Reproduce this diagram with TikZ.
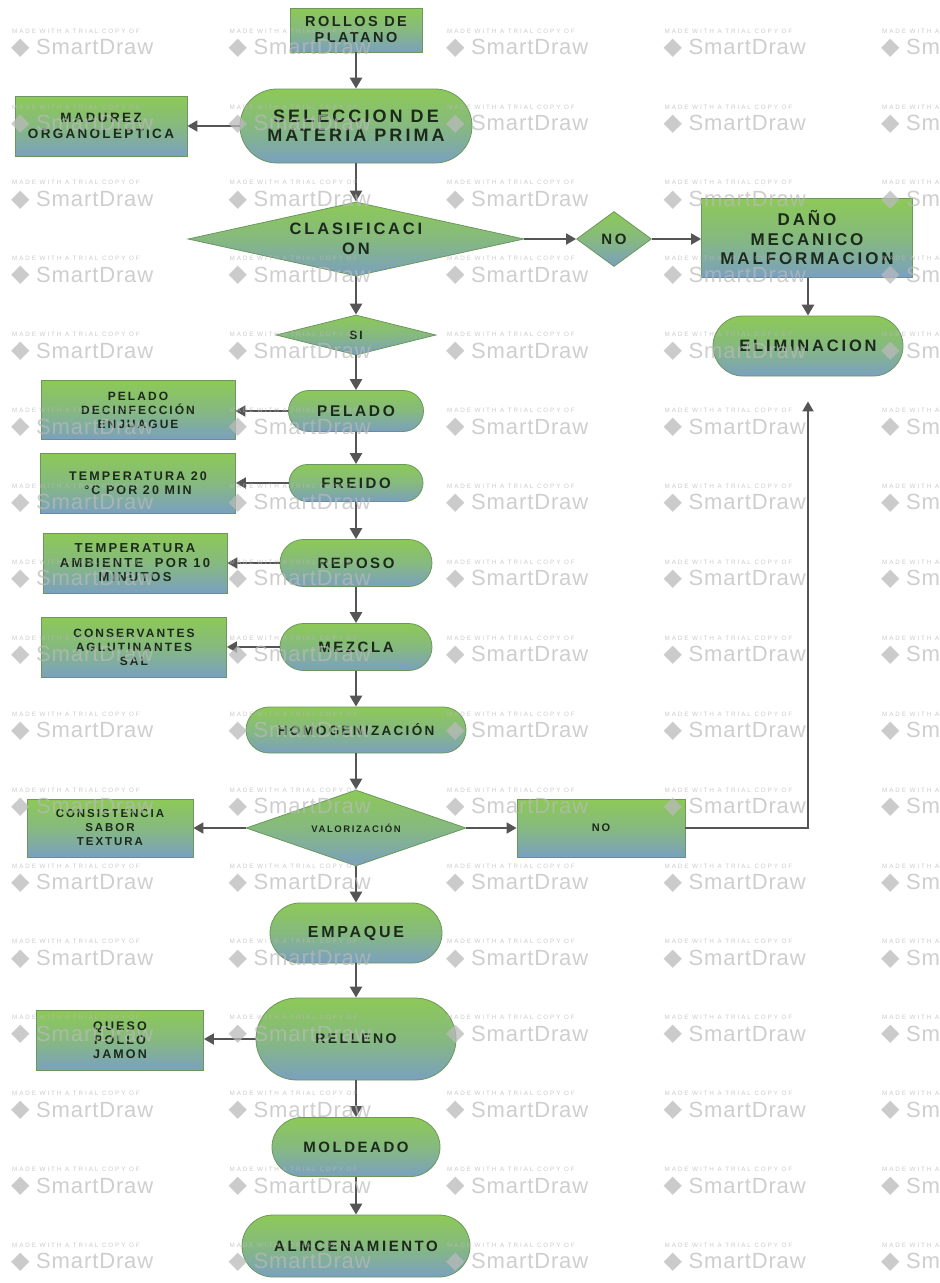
\documentclass[tikz,border=0pt]{standalone}
\usepackage{fontspec}
\setmainfont{Liberation Sans}
\newfontfamily\lsfont[LetterSpace=17]{Liberation Sans}
\newfontfamily\wmfont[LetterSpace=4]{Liberation Sans}
\newfontfamily\wmsmallfont[LetterSpace=30]{Liberation Sans}
\newfontfamily\djfont{DejaVu Sans}
\usetikzlibrary{shapes.geometric,shapes.misc,arrows.meta,calc}
\newcommand{\sdf}[2]{\lsfont\bfseries\fontsize{#1}{#2}\selectfont}
\definecolor{sdg}{RGB}{141,201,86}
\definecolor{sdm}{RGB}{134,185,128}
\definecolor{sdb}{RGB}{122,160,192}
\definecolor{sdborder}{RGB}{108,152,92}
\definecolor{sdtext}{RGB}{28,42,28}
\definecolor{sdarrow}{RGB}{85,85,85}
\definecolor{wmgray}{RGB}{186,186,186}
\tikzset{
  flow/.style={top color=sdg, bottom color=sdb, middle color=sdm, draw=sdborder,
    line width=0.8pt, text=sdtext, inner sep=0pt, align=center},
  stadium/.style={flow, rounded rectangle},
  box/.style={flow, rectangle},
  dia/.style={flow, diamond},
  arr/.style={draw=sdarrow, line width=2.6pt, -{Triangle[length=11pt,width=12pt]}},
  sarr/.style={draw=sdarrow, line width=1.8pt, -{Triangle[length=10pt,width=11pt]}},
  wmsmall/.style={inner sep=0pt, anchor=west, text=wmgray, text opacity=0.75,
    font=\wmsmallfont\fontsize{6.3}{7}\selectfont},
  wmicon/.style={inner sep=0pt, anchor=west, text=wmgray, text opacity=0.75,
    font=\djfont\fontsize{24}{24}\selectfont},
  wmbig/.style={inner sep=0pt, anchor=west, text=wmgray, text opacity=0.7,
    font=\wmfont\fontsize{22}{22}\selectfont},
}
\begin{document}
\begin{tikzpicture}[x=1pt,y=-1pt]
\useasboundingbox (0,0) rectangle (940,1283);
\fill[white] (0,0) rectangle (940,1283);

% main column
\node[box, minimum width=132, minimum height=44, font=\sdf{14.5}{16}] (rollos) at (356,30) {ROLLOS DE\\PLATANO};
\node[stadium, minimum width=232, minimum height=74, font=\sdf{18}{19}] (sel) at (356,126) {SELECCION DE\\MATERIA PRIMA};
\node[box, minimum width=172, minimum height=60, font=\sdf{13.5}{15.5}] (madurez) at (101,126) {MADUREZ\\ORGANOLEPTICA};
\node[dia, minimum width=336, minimum height=74, shape aspect=4.5, font=\sdf{16.5}{19.5}] (clas) at (356,239) {CLASIFICACI\\ON};
\node[dia, minimum width=75, minimum height=55, shape aspect=1.4, font=\sdf{15}{15}] (nod) at (614,239) {NO};
\node[box, minimum width=211, minimum height=79, font=\sdf{17}{19.5}] (dano) at (807,238) {DAÑO\\MECANICO\\MALFORMACION};
\node[stadium, minimum width=190, minimum height=60, font=\sdf{16.5}{17}] (elim) at (808,346) {ELIMINACION};
\node[dia, minimum width=160, minimum height=40, shape aspect=4, font=\sdf{12}{12}] (si) at (356,335) {SI};
\node[stadium, minimum width=135, minimum height=41, font=\sdf{15.5}{16}] (pelado) at (356,411) {PELADO};
\node[box, minimum width=194, minimum height=59, font=\sdf{12}{14}] (peladobox) at (138,410) {PELADO\\DECINFECCIÓN\\ENJUAGUE};
\node[stadium, minimum width=134, minimum height=37, font=\sdf{15}{15}] (freido) at (356,483) {FREIDO};
\node[box, minimum width=195, minimum height=60, font=\sdf{12.5}{14}] (tempbox) at (138,483) {TEMPERATURA 20\\°C POR 20 MIN};
\node[stadium, minimum width=152, minimum height=47, font=\sdf{15}{15}] (reposo) at (356,563) {REPOSO};
\node[box, minimum width=184, minimum height=60, font=\sdf{13}{14.5}] (ambbox) at (135,563) {TEMPERATURA\\AMBIENTE~ POR 10\\MINUTOS};
\node[stadium, minimum width=152, minimum height=47, font=\sdf{15}{15.5}] (mezcla) at (356,647) {MEZCLA};
\node[box, minimum width=185, minimum height=60, font=\sdf{12}{14}] (consbox) at (134,647) {CONSERVANTES\\AGLUTINANTES\\SAL};
\node[stadium, minimum width=220, minimum height=46, font=\sdf{13.5}{14}] (homog) at (356,730) {HOMOGENIZACIÓN};
\node[dia, minimum width=220, minimum height=76, shape aspect=2.9, font=\sdf{9.5}{10}] (valor) at (356,828) {VALORIZACIÓN};
\node[box, minimum width=166, minimum height=58, font=\sdf{11.5}{14}] (consis) at (110,828) {CONSISTENCIA\\SABOR\\TEXTURA};
\node[box, minimum width=168, minimum height=58, font=\sdf{11}{11}] (nobox) at (601,828) {NO};
\node[stadium, minimum width=172, minimum height=60, font=\sdf{16}{16}] (empaque) at (356,933) {EMPAQUE};
\node[stadium, minimum width=200, minimum height=82, font=\sdf{14}{14}] (relleno) at (356,1039) {RELLENO};
\node[box, minimum width=167, minimum height=60, font=\sdf{12.5}{14}] (queso) at (120,1040) {QUESO\\POLLO\\JAMON};
\node[stadium, minimum width=168, minimum height=59, font=\sdf{15}{15}] (moldeado) at (356,1147) {MOLDEADO};
\node[stadium, minimum width=228, minimum height=62, font=\sdf{15}{15}] (almacen) at (356,1246) {ALMCENAMIENTO};

\coordinate (elimin) at ($(elim.south)+(0,25)$);

% connectors
\draw[arr] (rollos.south) -- (sel.north);
\draw[sarr] (sel.west) -- (sel.west -| madurez.east);
\draw[arr] (sel.south) -- (clas.north);
\draw[sarr] (clas.east) -- (nod.west);
\draw[sarr] (nod.east) -- (nod.east -| dano.west);
\draw[arr] (dano.south -| elim.north) -- (elim.north);
\draw[arr] (clas.south) -- (si.north);
\draw[arr] (si.south) -- (pelado.north);
\draw[sarr] (pelado.west) -- (pelado.west -| peladobox.east);
\draw[arr] (pelado.south) -- (freido.north);
\draw[sarr] (freido.west) -- (freido.west -| tempbox.east);
\draw[arr] (freido.south) -- (reposo.north);
\draw[sarr] (reposo.west) -- (reposo.west -| ambbox.east);
\draw[arr] (reposo.south) -- (mezcla.north);
\draw[sarr] (mezcla.west) -- (mezcla.west -| consbox.east);
\draw[arr] (mezcla.south) -- (homog.north);
\draw[arr] (homog.south) -- (valor.north);
\draw[sarr] (valor.west) -- (consis.east);
\draw[sarr] (valor.east) -- (nobox.west);
\draw[sarr] (nobox.east) -| (elimin);
\draw[arr] (valor.south) -- (empaque.north);
\draw[arr] (empaque.south) -- (relleno.north);
\draw[sarr] (relleno.west) -- (relleno.west -| queso.east);
\draw[arr] (relleno.south) -- (moldeado.north);
\draw[arr] (moldeado.south) -- (almacen.north);

% watermark
\begin{scope}
\clip (0,0) rectangle (940,1283);
\foreach \j in {0,...,4}{
  \foreach \k in {0,...,16}{
    \pgfmathsetmacro{\wx}{12+217.5*\j}
    \pgfmathsetmacro{\wy}{47+75.9*\k}
    \node[wmsmall] (ws-\j-\k) at (\wx,\wy-16) {MADE WITH A TRIAL COPY OF};
    \node[wmicon] (wi-\j-\k) at (\wx-1,\wy+1) {◆};
    \node[wmbig] (wb-\j-\k) at (\wx+24,\wy) {SmartDraw};
  }
}
\end{scope}
\end{tikzpicture}
\end{document}
